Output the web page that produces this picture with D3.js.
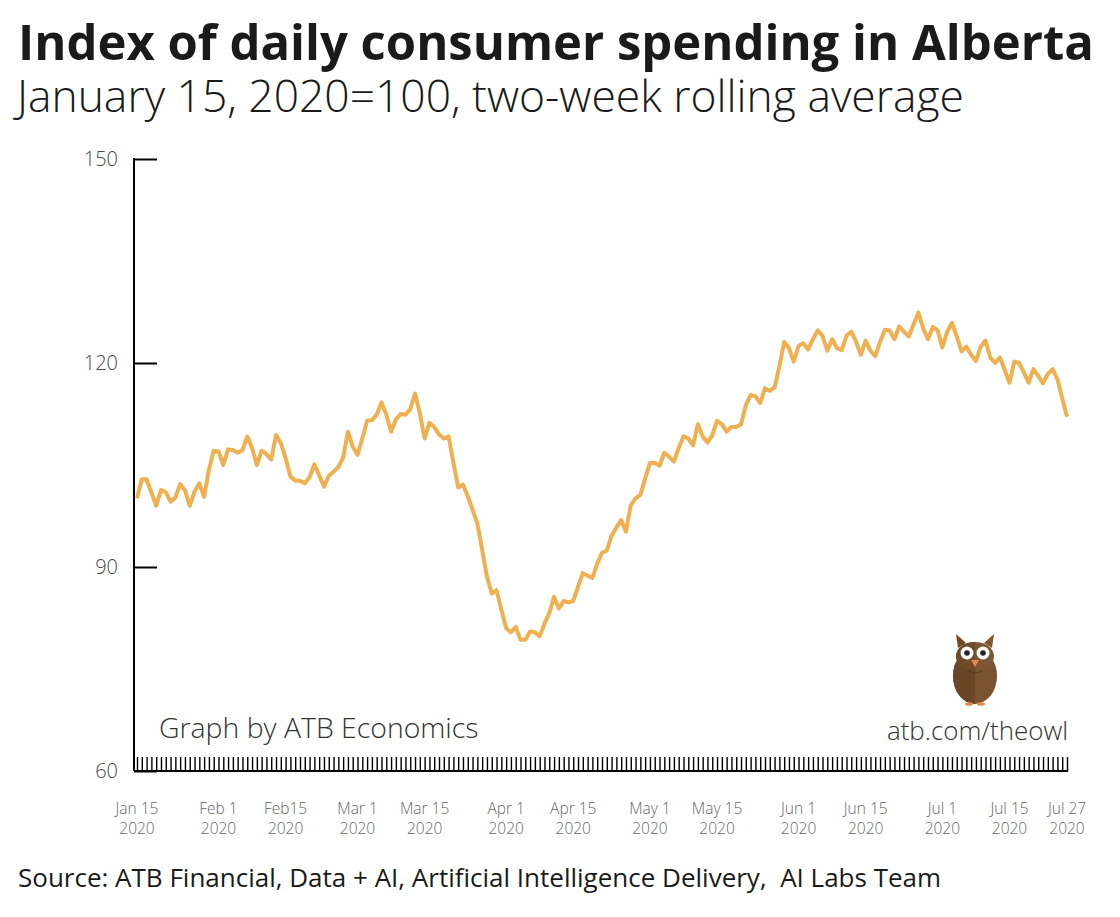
<!DOCTYPE html>
<html>
<head>
<meta charset="utf-8">
<script src="https://cdn.jsdelivr.net/npm/d3@7/dist/d3.min.js"></script>
<style>
  html, body { margin: 0; padding: 0; background: #fff; }
  svg { display: block; font-family: "Open Sans", "Noto Sans", sans-serif; }
</style>
</head>
<body>
<svg id="chart" width="1120" height="917"></svg>
<script>
// ---- data ----
const startDate = "2020-01-15";
const spendingIndex = [
  100.1, 102.9, 102.9, 101.0, 99.0, 101.3, 101.0, 99.6, 100.2, 102.2,
  101.3, 99.0, 101.1, 102.3, 100.3, 104.3, 107.1, 107.0, 105.0, 107.3,
  107.2, 106.8, 107.2, 109.2, 107.5, 105.0, 107.1, 106.6, 105.8, 109.4,
  108.2, 106.0, 103.3, 102.7, 102.7, 102.3, 103.2, 105.1, 103.5, 101.8,
  103.4, 104.0, 104.7, 106.1, 109.9, 107.7, 106.5, 108.9, 111.5, 111.6,
  112.4, 114.2, 112.4, 109.9, 111.7, 112.5, 112.4, 113.2, 115.5, 112.6,
  108.9, 111.2, 110.6, 109.5, 108.9, 109.2, 105.3, 101.7, 102.1, 100.4,
  98.4, 96.4, 92.5, 88.6, 86.1, 86.6, 83.7, 81.0, 80.4, 81.2,
  79.3, 79.3, 80.5, 80.4, 79.8, 81.7, 83.2, 85.6, 83.9, 85.0,
  84.8, 85.0, 87.1, 89.1, 88.7, 88.4, 90.5, 92.1, 92.4, 94.6,
  95.8, 96.9, 95.2, 99.1, 100.1, 100.6, 103.0, 105.3, 105.3, 104.9,
  106.8, 106.2, 105.5, 107.5, 109.2, 108.9, 107.9, 111.0, 109.2, 108.3,
  109.4, 111.5, 111.0, 109.9, 110.6, 110.6, 111.0, 113.8, 115.3, 115.1,
  114.1, 116.3, 115.9, 116.4, 119.5, 123.1, 122.2, 120.2, 122.5, 122.9,
  122.0, 123.5, 124.8, 124.0, 121.8, 123.5, 122.2, 121.9, 124.0, 124.6,
  123.1, 121.2, 123.3, 121.8, 121.0, 123.1, 124.9, 124.8, 123.5, 125.4,
  124.6, 123.9, 125.7, 127.4, 125.1, 123.5, 125.3, 124.8, 122.3, 124.6,
  125.9, 123.9, 121.7, 122.4, 121.2, 120.3, 122.4, 123.3, 120.8, 120.0,
  120.8, 119.0, 117.1, 120.2, 120.0, 118.6, 117.1, 119.1, 118.1, 117.0,
  118.4, 119.1, 117.6, 114.8, 112.1
];
const xLabelDates = ["2020-01-15","2020-02-01","2020-02-15","2020-03-01","2020-03-15",
  "2020-04-01","2020-04-15","2020-05-01","2020-05-15","2020-06-01","2020-06-15",
  "2020-07-01","2020-07-15","2020-07-27"];
const xLabelText = ["Jan 15","Feb 1","Feb15","Mar 1","Mar 15","Apr 1","Apr 15",
  "May 1","May 15","Jun 1","Jun 15","Jul 1","Jul 15","Jul 27"];
const xLabelYear = "2020";
const yTicks = [60, 90, 120, 150];
const titleText = "Index of daily consumer spending in Alberta";
const subtitleText = "January 15, 2020=100, two-week rolling average";
const creditText = "Graph by ATB Economics";
const urlText = "atb.com/theowl";
const sourceText = "Source: ATB Financial, Data + AI, Artificial Intelligence Delivery,  AI Labs Team";

// ---- build ----
const parse = d3.utcParse("%Y-%m-%d");
const t0 = parse(startDate);
const series = spendingIndex.map((v, i) => ({ date: d3.utcDay.offset(t0, i), value: v }));
const tEnd = series[series.length - 1].date;

const svg = d3.select("#chart");
const x = d3.scaleUtc().domain([t0, tEnd]).range([137, 1067]);
const y = d3.scaleLinear().domain([60, 150]).range([771, 159]);
const axisX = 134;

// titles
svg.append("text").attr("x", 18).attr("y", 60)
  .attr("font-size", 49).attr("font-weight", 700).attr("fill", "#1a1a1a")
  .text(titleText);
svg.append("text").attr("x", 17).attr("y", 112)
  .attr("font-size", 44.4).attr("font-weight", 300).attr("fill", "#1a1a1a")
  .text(subtitleText);

// y axis
const gy = svg.append("g").attr("transform", `translate(${axisX},0)`)
  .call(d3.axisRight(y).tickValues(yTicks).tickSize(23).tickSizeOuter(0).tickFormat(d3.format("d")));
gy.select(".domain").remove();
gy.selectAll(".tick line").attr("stroke", "#000").attr("stroke-width", 2);
gy.selectAll(".tick text").attr("x", -16).attr("text-anchor", "end")
  .attr("font-size", 20).attr("font-weight", 300).attr("fill", "#4a4a4a")
  .attr("font-family", '"Open Sans", sans-serif');
svg.append("line").attr("x1", axisX).attr("x2", axisX).attr("y1", y(150) - 1).attr("y2", y(60))
  .attr("stroke", "#000").attr("stroke-width", 2);

// x axis: daily ticks pointing up
const gx = svg.append("g").attr("transform", `translate(0,${y(60)})`)
  .call(d3.axisBottom(x).ticks(d3.utcDay.every(1)).tickSize(-14).tickSizeOuter(0).tickFormat(""));
gx.select(".domain").remove();
gx.selectAll(".tick line").attr("stroke", "#000").attr("stroke-width", 1.4);
svg.append("line").attr("x1", axisX).attr("x2", 1068).attr("y1", y(60)).attr("y2", y(60))
  .attr("stroke", "#000").attr("stroke-width", 2);

// x labels
const lab = svg.append("g").selectAll("g").data(xLabelDates).join("g")
  .attr("transform", d => `translate(${x(parse(d))},0)`);
lab.append("text").attr("y", 814).attr("text-anchor", "middle")
  .attr("font-size", 15.5).attr("font-weight", 300).attr("fill", "#666")
  .text((d, i) => xLabelText[i]);
lab.append("text").attr("y", 834).attr("text-anchor", "middle")
  .attr("font-size", 15.5).attr("font-weight", 300).attr("fill", "#666")
  .text(xLabelYear);

// line
const line = d3.line().x(d => x(d.date)).y(d => y(d.value));
svg.append("path").datum(series).attr("d", line)
  .attr("fill", "none").attr("stroke", "#F0B050").attr("stroke-width", 4)
  .attr("stroke-linejoin", "round");

// credits
svg.append("text").attr("x", 159).attr("y", 738)
  .attr("font-size", 28.4).attr("font-weight", 300).attr("fill", "#333")
  .text(creditText);
svg.append("text").attr("x", 1068).attr("y", 740).attr("text-anchor", "end")
  .attr("font-size", 25.9).attr("font-weight", 300).attr("fill", "#333")
  .text(urlText);

// owl logo
const owl = svg.append("g").attr("transform", "translate(975,670)");
owl.append("path").attr("d", "M-17,-22 L-19,-36 L-9,-27 Z").attr("fill", "#6e4a2a");
owl.append("path").attr("d", "M17,-22 L19,-36 L9,-27 Z").attr("fill", "#7d5735");
owl.append("ellipse").attr("cx", 0).attr("cy", 6).attr("rx", 22).attr("ry", 28).attr("fill", "#7a5432");
owl.append("path").attr("d", "M0,-22 A22,28 0 0,0 0,34 Z").attr("fill", "#6a4526");
owl.append("ellipse").attr("cx", 0).attr("cy", -14).attr("rx", 19).attr("ry", 14).attr("fill", "#7d5735");
owl.append("path").attr("d", "M0,-28 A19,14 0 0,0 0,0 Z").attr("fill", "#6e4a2a");
owl.append("circle").attr("cx", -8).attr("cy", -17).attr("r", 6.5).attr("fill", "#fff");
owl.append("circle").attr("cx", 8).attr("cy", -17).attr("r", 6.5).attr("fill", "#fff");
owl.append("circle").attr("cx", -8).attr("cy", -17).attr("r", 2.8).attr("fill", "#222");
owl.append("circle").attr("cx", 8).attr("cy", -17).attr("r", 2.8).attr("fill", "#222");
owl.append("path").attr("d", "M-4,-10 L4,-10 L0,-3 Z").attr("fill", "#e8884a");
owl.append("path").attr("d", "M-7,1 Q0,5 7,1").attr("fill", "none").attr("stroke", "#5a3a1f").attr("stroke-width", 1.2);
owl.append("ellipse").attr("cx", -6).attr("cy", 34).attr("rx", 4).attr("ry", 1.8).attr("fill", "#e8884a");
owl.append("ellipse").attr("cx", 6).attr("cy", 34).attr("rx", 4).attr("ry", 1.8).attr("fill", "#e8884a");

// source
svg.append("text").attr("x", 18).attr("y", 887)
  .attr("font-size", 26).attr("font-weight", 400).attr("fill", "#1a1a1a")
  .style("white-space", "pre")
  .text(sourceText);
</script>
</body>
</html>
